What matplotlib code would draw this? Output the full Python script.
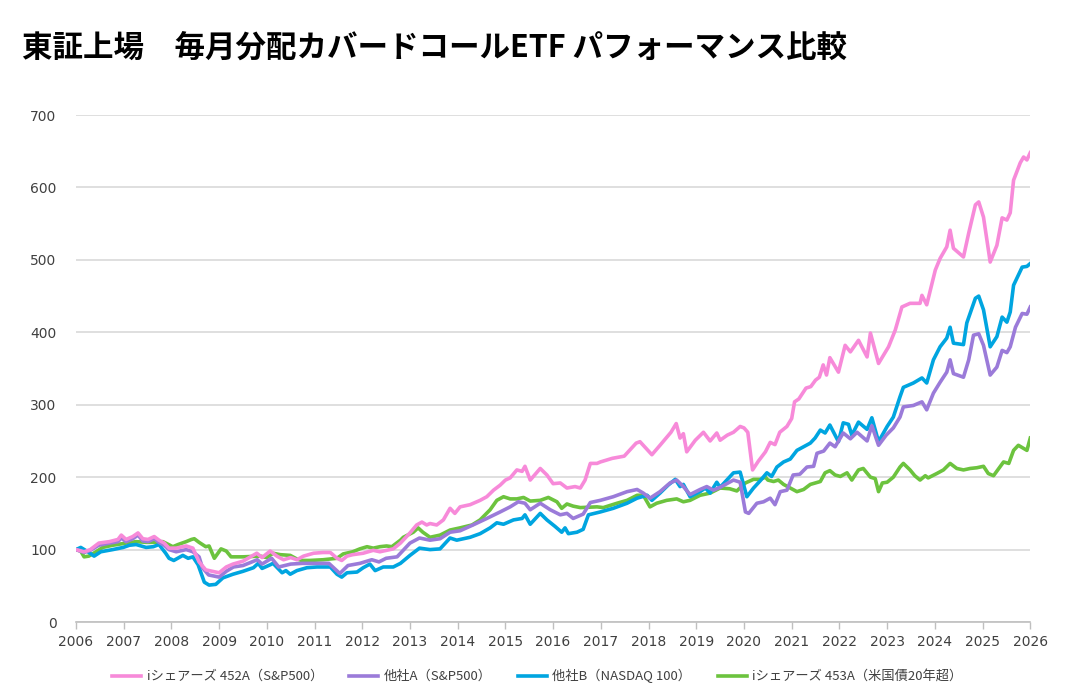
import matplotlib
matplotlib.use("Agg")
import matplotlib.pyplot as plt

# 各シリーズ (年, 指数値) 2006年初=100
pink = [(2006.0, 100), (2006.17, 97), (2006.3, 100), (2006.48, 109), (2006.7, 111), (2006.88, 114), (2006.95, 120),
        (2007.05, 114), (2007.19, 118), (2007.3, 123), (2007.4, 115), (2007.51, 114), (2007.64, 118), (2007.74, 113),
        (2007.85, 109), (2007.95, 102), (2008.1, 102), (2008.31, 105), (2008.45, 102), (2008.58, 83), (2008.72, 72),
        (2008.86, 70), (2009.0, 68), (2009.15, 76), (2009.29, 80), (2009.5, 84), (2009.79, 95), (2009.9, 89),
        (2010.07, 98), (2010.21, 91), (2010.35, 86), (2010.5, 89), (2010.63, 86), (2010.77, 91), (2010.98, 95),
        (2011.18, 96), (2011.33, 96), (2011.47, 88), (2011.57, 85), (2011.68, 91), (2011.8, 93), (2012.02, 95),
        (2012.23, 99), (2012.37, 97), (2012.51, 99), (2012.65, 101), (2012.8, 109), (2013.0, 123), (2013.14, 134),
        (2013.25, 138), (2013.35, 134), (2013.42, 136), (2013.56, 134), (2013.7, 141), (2013.84, 157), (2013.94, 150),
        (2014.05, 159), (2014.26, 162), (2014.47, 168), (2014.61, 173), (2014.75, 182), (2014.89, 189), (2015.0, 196),
        (2015.1, 199), (2015.24, 210), (2015.35, 208), (2015.41, 215), (2015.52, 196), (2015.73, 212), (2015.87, 203),
        (2016.0, 191), (2016.15, 192), (2016.29, 185), (2016.46, 187), (2016.57, 185), (2016.67, 196), (2016.78, 219),
        (2016.92, 219), (2016.99, 221), (2017.24, 226), (2017.49, 229), (2017.74, 247), (2017.82, 249), (2018.07, 231),
        (2018.24, 244), (2018.47, 262), (2018.58, 274), (2018.66, 254), (2018.73, 260), (2018.8, 235), (2018.98, 251),
        (2019.15, 262), (2019.29, 250), (2019.43, 261), (2019.5, 251), (2019.65, 258), (2019.78, 262), (2019.92, 270),
        (2020.0, 268), (2020.08, 262), (2020.18, 210), (2020.3, 222), (2020.45, 235), (2020.55, 248), (2020.65, 245),
        (2020.75, 262), (2020.9, 270), (2021.0, 281), (2021.06, 304), (2021.15, 308), (2021.3, 323), (2021.4, 325),
        (2021.5, 334), (2021.58, 338), (2021.66, 355), (2021.73, 341), (2021.8, 365), (2021.98, 345), (2022.12, 382),
        (2022.23, 373), (2022.4, 389), (2022.58, 366), (2022.65, 399), (2022.82, 357), (2023.03, 380), (2023.17, 403),
        (2023.31, 435), (2023.48, 440), (2023.69, 440), (2023.73, 451), (2023.83, 438), (2024.01, 486), (2024.11, 502),
        (2024.25, 518), (2024.32, 541), (2024.39, 516), (2024.6, 504), (2024.71, 537), (2024.85, 576), (2024.92, 580),
        (2025.02, 559), (2025.16, 497), (2025.3, 520), (2025.41, 558), (2025.51, 555), (2025.58, 565), (2025.65, 610),
        (2025.79, 634), (2025.86, 642), (2025.93, 638), (2026.0, 648)]

purple = [(2006.0, 100), (2006.17, 96), (2006.3, 99), (2006.48, 106), (2006.7, 109), (2006.88, 111), (2006.95, 116),
          (2007.05, 111), (2007.19, 115), (2007.3, 120), (2007.4, 112), (2007.51, 111), (2007.64, 115), (2007.74, 110),
          (2007.85, 106), (2007.95, 100), (2008.1, 97), (2008.31, 100), (2008.45, 97), (2008.58, 90), (2008.65, 75),
          (2008.78, 65), (2009.0, 62), (2009.15, 70), (2009.3, 76), (2009.5, 78), (2009.8, 86), (2009.9, 80),
          (2010.1, 88), (2010.25, 76), (2010.5, 80), (2010.75, 81), (2011.0, 81), (2011.3, 81), (2011.53, 67),
          (2011.7, 78), (2011.95, 81), (2012.2, 86), (2012.35, 83), (2012.5, 88), (2012.73, 90), (2013.0, 109),
          (2013.2, 116), (2013.42, 113), (2013.63, 115), (2013.84, 124), (2014.05, 126), (2014.32, 134), (2014.61, 143),
          (2014.89, 152), (2015.1, 159), (2015.27, 166), (2015.41, 164), (2015.52, 155), (2015.73, 164), (2015.94, 155),
          (2016.15, 148), (2016.29, 150), (2016.42, 143), (2016.63, 149), (2016.78, 165), (2016.99, 168), (2017.26, 173),
          (2017.55, 180), (2017.76, 183), (2017.89, 178), (2018.03, 171), (2018.24, 180), (2018.45, 192), (2018.59, 196),
          (2018.73, 187), (2018.87, 176), (2019.08, 183), (2019.22, 187), (2019.36, 182), (2019.5, 186), (2019.78, 196),
          (2019.92, 193), (2020.03, 152), (2020.1, 150), (2020.27, 164), (2020.41, 166), (2020.55, 171), (2020.65, 162),
          (2020.76, 180), (2020.9, 182), (2021.03, 203), (2021.17, 204), (2021.32, 214), (2021.46, 215), (2021.53, 233),
          (2021.67, 236), (2021.8, 247), (2021.91, 242), (2022.08, 261), (2022.23, 253), (2022.37, 262), (2022.58, 250),
          (2022.68, 271), (2022.82, 244), (2022.98, 258), (2023.13, 268), (2023.27, 283), (2023.34, 297), (2023.55, 299),
          (2023.73, 304), (2023.83, 293), (2023.97, 316), (2024.11, 331), (2024.25, 345), (2024.32, 362), (2024.39, 343),
          (2024.6, 338), (2024.71, 362), (2024.81, 396), (2024.92, 398), (2025.02, 382), (2025.16, 341), (2025.3, 352),
          (2025.41, 375), (2025.51, 372), (2025.58, 380), (2025.69, 407), (2025.83, 426), (2025.93, 425), (2026.0, 435)]

blue = [(2006.0, 100), (2006.1, 103), (2006.25, 97), (2006.38, 91), (2006.52, 97), (2006.77, 100), (2006.99, 103),
        (2007.12, 106), (2007.26, 107), (2007.47, 103), (2007.62, 104), (2007.74, 107), (2007.88, 95), (2007.95, 88),
        (2008.05, 85), (2008.24, 92), (2008.35, 88), (2008.45, 90), (2008.56, 79), (2008.69, 55), (2008.79, 51),
        (2008.93, 52), (2009.08, 61), (2009.29, 66), (2009.5, 70), (2009.72, 75), (2009.82, 81), (2009.9, 74),
        (2010.07, 79), (2010.13, 81), (2010.32, 68), (2010.4, 71), (2010.49, 66), (2010.63, 71), (2010.84, 75),
        (2011.05, 76), (2011.33, 76), (2011.47, 66), (2011.57, 62), (2011.68, 68), (2011.89, 69), (2012.02, 75),
        (2012.16, 80), (2012.27, 71), (2012.44, 76), (2012.65, 76), (2012.8, 81), (2013.0, 92), (2013.2, 102),
        (2013.42, 100), (2013.63, 101), (2013.84, 116), (2013.98, 113), (2014.26, 117), (2014.47, 122), (2014.68, 130),
        (2014.82, 137), (2014.96, 135), (2015.17, 141), (2015.35, 143), (2015.41, 148), (2015.52, 135), (2015.73, 150),
        (2015.87, 141), (2016.04, 132), (2016.18, 124), (2016.25, 130), (2016.32, 122), (2016.5, 124), (2016.63, 128),
        (2016.74, 148), (2016.99, 152), (2017.26, 157), (2017.55, 164), (2017.76, 171), (2017.97, 175), (2018.07, 168),
        (2018.24, 178), (2018.41, 189), (2018.56, 197), (2018.66, 187), (2018.73, 190), (2018.87, 173), (2019.08, 180),
        (2019.19, 185), (2019.29, 178), (2019.43, 193), (2019.5, 186), (2019.64, 196), (2019.78, 206), (2019.92, 207),
        (2020.06, 173), (2020.2, 185), (2020.34, 195), (2020.48, 206), (2020.58, 201), (2020.69, 214), (2020.83, 221),
        (2020.97, 225), (2021.11, 237), (2021.25, 242), (2021.39, 247), (2021.49, 254), (2021.6, 265), (2021.7, 261),
        (2021.8, 272), (2021.98, 249), (2022.08, 275), (2022.19, 273), (2022.26, 258), (2022.4, 276), (2022.58, 266),
        (2022.68, 282), (2022.82, 249), (2023.0, 270), (2023.13, 283), (2023.27, 311), (2023.34, 324), (2023.55, 330),
        (2023.73, 337), (2023.83, 330), (2023.97, 362), (2024.11, 380), (2024.25, 392), (2024.32, 407), (2024.39, 385),
        (2024.6, 383), (2024.67, 413), (2024.85, 447), (2024.92, 450), (2025.02, 431), (2025.16, 380), (2025.3, 394),
        (2025.41, 421), (2025.51, 414), (2025.58, 428), (2025.65, 465), (2025.83, 490), (2025.93, 491), (2026.0, 495)]

green = [(2006.0, 100), (2006.1, 98), (2006.17, 90), (2006.27, 91), (2006.42, 97), (2006.56, 103), (2006.77, 106),
         (2007.05, 109), (2007.26, 111), (2007.47, 110), (2007.68, 110), (2007.82, 111), (2008.03, 104), (2008.14, 107),
         (2008.31, 111), (2008.42, 114), (2008.48, 115), (2008.58, 110), (2008.72, 104), (2008.79, 105), (2008.9, 88),
         (2009.04, 101), (2009.15, 98), (2009.25, 90), (2009.5, 90), (2009.86, 91), (2010.0, 89), (2010.13, 95),
         (2010.28, 93), (2010.49, 92), (2010.63, 87), (2010.73, 85), (2010.9, 85), (2011.18, 86), (2011.47, 88),
         (2011.6, 94), (2011.8, 97), (2011.95, 101), (2012.1, 104), (2012.23, 102), (2012.37, 104), (2012.51, 105),
         (2012.62, 104), (2012.8, 113), (2012.86, 117), (2013.07, 124), (2013.17, 130), (2013.27, 124), (2013.42, 117),
         (2013.63, 120), (2013.84, 127), (2014.05, 130), (2014.3, 134), (2014.47, 141), (2014.68, 155), (2014.82, 168),
         (2014.96, 173), (2015.1, 170), (2015.24, 170), (2015.38, 172), (2015.52, 167), (2015.73, 168), (2015.9, 172),
         (2016.08, 166), (2016.18, 157), (2016.29, 163), (2016.42, 160), (2016.57, 158), (2016.92, 159), (2017.05, 158),
         (2017.34, 164), (2017.55, 168), (2017.76, 175), (2017.89, 175), (2018.03, 159), (2018.17, 164), (2018.38, 168),
         (2018.59, 170), (2018.73, 166), (2018.87, 168), (2019.08, 175), (2019.29, 178), (2019.5, 185), (2019.7, 184),
         (2019.85, 181), (2020.03, 192), (2020.2, 197), (2020.34, 197), (2020.45, 200), (2020.5, 196), (2020.62, 194),
         (2020.72, 196), (2020.83, 190), (2020.97, 185), (2021.11, 180), (2021.25, 183), (2021.39, 190), (2021.6, 194),
         (2021.7, 206), (2021.8, 209), (2021.91, 203), (2022.02, 201), (2022.16, 206), (2022.26, 196), (2022.4, 210),
         (2022.5, 212), (2022.65, 200), (2022.75, 198), (2022.82, 180), (2022.9, 192), (2023.0, 193), (2023.13, 200),
         (2023.27, 214), (2023.34, 219), (2023.48, 210), (2023.58, 202), (2023.69, 196), (2023.8, 202), (2023.86, 199),
         (2024.04, 205), (2024.18, 210), (2024.32, 219), (2024.46, 212), (2024.6, 210), (2024.74, 212), (2024.88, 213),
         (2025.02, 215), (2025.12, 205), (2025.23, 202), (2025.34, 212), (2025.44, 221), (2025.55, 219), (2025.65, 237),
         (2025.75, 244), (2025.93, 237), (2026.0, 254)]

labels = ["iシェアーズ 452A（S&P500）", "他社A（S&P500）", "他社B（NASDAQ 100）", "iシェアーズ 453A（米国債20年超）"]
colors = ["#F78AD9", "#9B7BD9", "#00A5E0", "#6CC33E"]
years = list(range(2006, 2027))
yticks = list(range(0, 701, 100))

plt.rcParams['font.family'] = ['Noto Sans CJK JP', 'DejaVu Sans']

fig = plt.figure(figsize=(10.9, 6.95), dpi=100)
ax = fig.add_axes([0.0697, 0.105, 0.8755, 0.7295])

# ピンクが最前面
series = [pink, purple, blue, green]
lines = []
for data, lab, c, z in zip(series, labels, colors, [5, 4, 3, 2]):
    t = [p[0] for p in data]
    v = [p[1] for p in data]
    ln, = ax.plot(t, v, color=c, lw=2.6, label=lab, zorder=z, solid_joinstyle='round')
    lines.append(ln)

ax.set_xlim(2006, 2026)
ax.set_ylim(0, 700)
ax.set_xticks(years)
ax.set_xticklabels([str(y) for y in years], fontfamily='DejaVu Sans', fontsize=10, color='#404040')
ax.set_yticks(yticks)
ax.set_yticklabels([str(y) for y in yticks], fontfamily='DejaVu Sans', fontsize=10, color='#404040')
ax.tick_params(axis='y', length=0, pad=14)
ax.tick_params(axis='x', length=5, color='#BFBFBF', width=1, pad=4)
ax.grid(axis='y', color='#D9D9D9', lw=1.2)
ax.set_axisbelow(True)
for s in ['top', 'right', 'left']:
    ax.spines[s].set_visible(False)
ax.spines['bottom'].set_color('#BFBFBF')
ax.spines['bottom'].set_linewidth(1.2)

fig.text(0.02, 0.93, "東証上場\u3000毎月分配カバードコールETF パフォーマンス比較",
         fontsize=22, fontweight='bold', ha='left', va='center', color='black')

fig.legend(lines, labels, loc='lower center', bbox_to_anchor=(0.493, 0.0), ncol=4, frameon=False,
           fontsize=9.5, handlelength=2.2, columnspacing=2.0, handletextpad=0.4,
           labelcolor='#404040')

fig.savefig("out.png", dpi=100)
